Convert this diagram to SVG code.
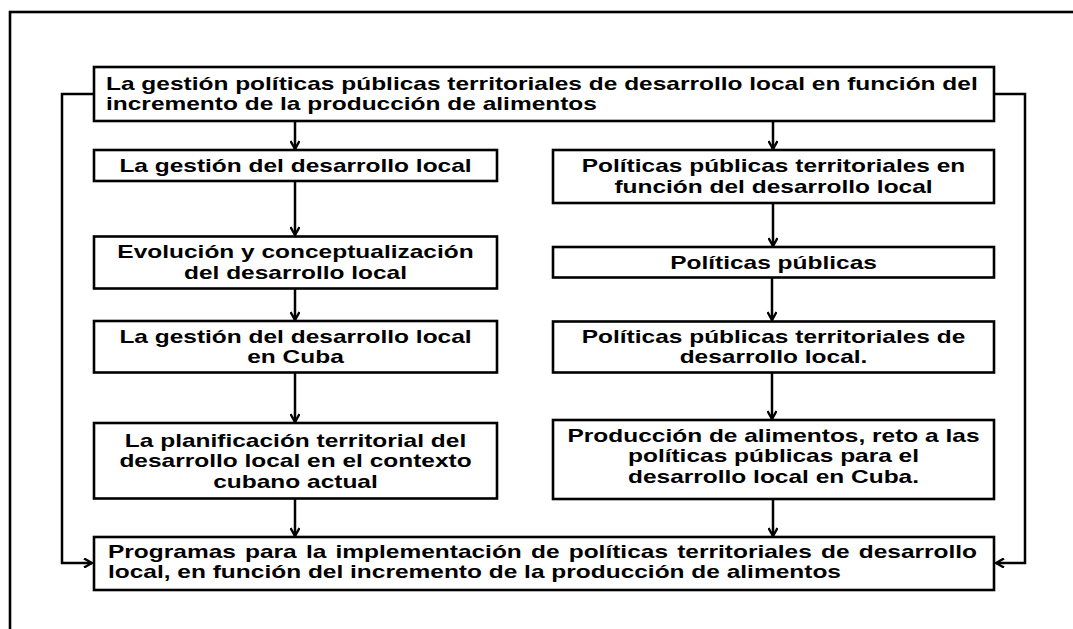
<svg xmlns="http://www.w3.org/2000/svg" width="1073" height="629" viewBox="0 0 1073 629">
<style>
.box{fill:#fff;stroke:#000;stroke-width:2.6}
.t{font-family:"Liberation Sans",Arial,sans-serif;font-weight:bold;font-size:17.5px;fill:#000}
.c{text-anchor:middle}
.conn{fill:none;stroke:#000;stroke-width:2.5}
</style>
<defs>
<marker id="arr" viewBox="0 0 10 10" refX="9" refY="5" markerWidth="10" markerHeight="10" markerUnits="userSpaceOnUse" orient="auto">
<path d="M1,0.5 L9,5 L1,9.5" fill="none" stroke="#000" stroke-width="2.4"/>
</marker>
</defs>
<rect width="1073" height="629" fill="#fff"/>
<rect x="10" y="12" width="1100" height="700" fill="none" stroke="#000" stroke-width="2.6"/>

<g id="connectors">
<path class="conn" d="M94,94 H62 V563 H92" marker-end="url(#arr)"/>
<path class="conn" d="M994,94 H1025 V563 H996" marker-end="url(#arr)"/>
<path class="conn" d="M295,121 V149" marker-end="url(#arr)"/>
<path class="conn" d="M295,181 V235" marker-end="url(#arr)"/>
<path class="conn" d="M295,288 V320" marker-end="url(#arr)"/>
<path class="conn" d="M295,372 V422" marker-end="url(#arr)"/>
<path class="conn" d="M295,498 V536" marker-end="url(#arr)"/>
<path class="conn" d="M773,121 V149" marker-end="url(#arr)"/>
<path class="conn" d="M773,203 V246" marker-end="url(#arr)"/>
<path class="conn" d="M772,277 V320" marker-end="url(#arr)"/>
<path class="conn" d="M772,372 V419" marker-end="url(#arr)"/>
<path class="conn" d="M773,499 V536" marker-end="url(#arr)"/>
</g>

<g id="top">
<rect class="box" x="94" y="67" width="900" height="54"/>
<text class="t" transform="translate(106,89.5) scale(1.4,1)"><tspan x="0">La gestión políticas públicas territoriales de desarrollo local en función del</tspan><tspan x="0" dy="21">incremento de la producción de alimentos</tspan></text>
</g>

<g id="l1">
<rect class="box" x="94" y="150" width="403" height="31"/>
<text class="t c" transform="translate(295.5,172) scale(1.4,1)">La gestión del desarrollo local</text>
</g>
<g id="l2">
<rect class="box" x="94" y="236.5" width="403" height="52"/>
<text class="t c" transform="translate(295.5,258.3) scale(1.4,1)"><tspan x="0">Evolución y conceptualización</tspan><tspan x="0" dy="20.5">del desarrollo local</tspan></text>
</g>
<g id="l3">
<rect class="box" x="94" y="321" width="403" height="51.5"/>
<text class="t c" transform="translate(295.5,342.5) scale(1.4,1)"><tspan x="0">La gestión del desarrollo local</tspan><tspan x="0" dy="21">en Cuba</tspan></text>
</g>
<g id="l4">
<rect class="box" x="94" y="423" width="403" height="75.5"/>
<text class="t c" transform="translate(295.5,446.5) scale(1.4,1)"><tspan x="0">La planificación territorial del</tspan><tspan x="0" dy="21">desarrollo local en el contexto</tspan><tspan x="0" dy="21">cubano actual</tspan></text>
</g>

<g id="r1">
<rect class="box" x="553" y="150" width="441" height="53"/>
<text class="t c" transform="translate(773.5,172) scale(1.4,1)"><tspan x="0">Políticas públicas territoriales en</tspan><tspan x="0" dy="21">función del desarrollo local</tspan></text>
</g>
<g id="r2">
<rect class="box" x="553" y="247" width="441" height="30.5"/>
<text class="t c" transform="translate(773.5,268.5) scale(1.4,1)">Políticas públicas</text>
</g>
<g id="r3">
<rect class="box" x="553" y="321.5" width="441" height="51"/>
<text class="t c" transform="translate(773.5,342.5) scale(1.4,1)"><tspan x="0">Políticas públicas territoriales de</tspan><tspan x="0" dy="21">desarrollo local.</tspan></text>
</g>
<g id="r4">
<rect class="box" x="553" y="420" width="441" height="79"/>
<text class="t c" transform="translate(773.5,441.5) scale(1.4,1)"><tspan x="0">Producción de alimentos, reto a las</tspan><tspan x="0" dy="21">políticas públicas para el</tspan><tspan x="0" dy="21">desarrollo local en Cuba.</tspan></text>
</g>

<g id="bottom">
<rect class="box" x="94" y="537" width="900" height="53"/>
<text class="t" transform="translate(108,557.5) scale(1.4,1)"><tspan x="0" word-spacing="1.7">Programas para la implementación de políticas territoriales de desarrollo</tspan><tspan x="0" dy="21">local, en función del incremento de la producción de alimentos</tspan></text>
</g>
</svg>
